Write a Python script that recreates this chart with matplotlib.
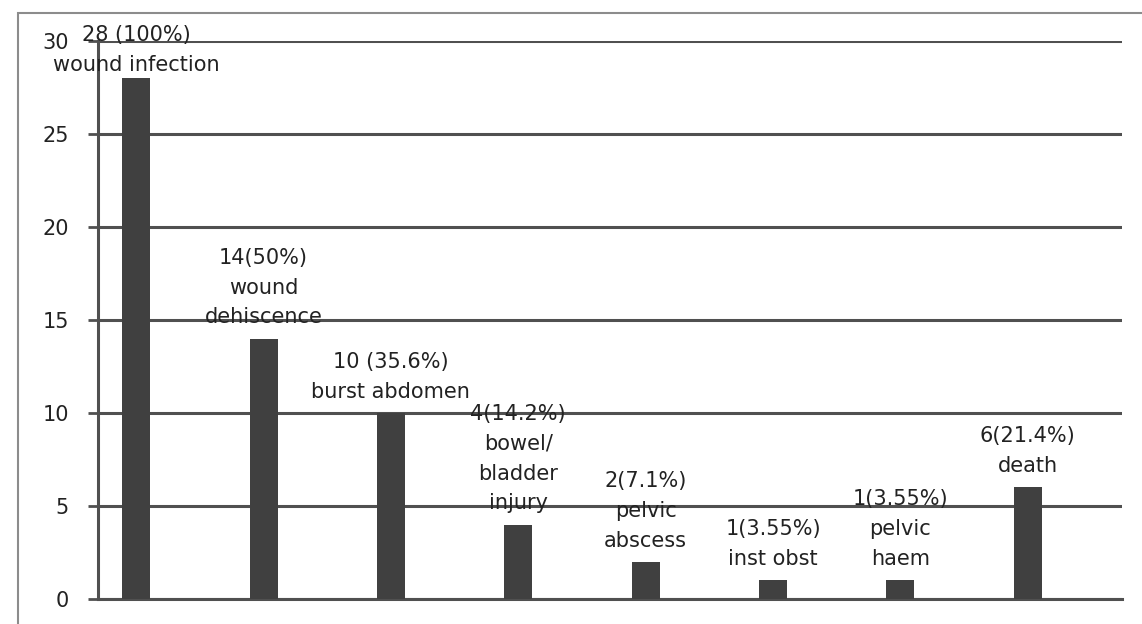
import matplotlib.pyplot as plt
from matplotlib.patches import Rectangle

# complications after surgery, count and share of cases
cases = [28, 14, 10, 4, 2, 1, 1, 6]
labels = ['28 (100%)\nwound infection',
          '14(50%)\nwound\ndehiscence',
          '10 (35.6%)\nburst abdomen',
          '4(14.2%)\nbowel/\nbladder\ninjury',
          '2(7.1%)\npelvic\nabscess',
          '1(3.55%)\ninst obst',
          '1(3.55%)\npelvic\nhaem',
          '6(21.4%)\ndeath']
yticks = [0, 5, 10, 15, 20, 25, 30]

fig = plt.figure(figsize=(11.42, 6.24), dpi=100)
ax = fig.add_axes([0.0858, 0.0401, 0.8967, 0.8942])

# grey frame round the chart
fig.patches.append(Rectangle((0.0158, -0.2), 1.2, 0.979 + 0.2, transform=fig.transFigure,
                             fill=False, edgecolor='#8c8c8c', linewidth=1.5))

x = range(len(cases))
ax.bar(x, cases, width=0.22, color='#404040', zorder=3)

for i, (v, t) in enumerate(zip(cases, labels)):
    # tall bars leave little room up top, so their label sits closer
    lift = 8 if v < 25 else 2
    ax.annotate(t, xy=(i, v), xytext=(0, lift), textcoords='offset points',
                ha='center', va='bottom', fontsize=15, color='#222222',
                linespacing=1.62, zorder=4)

ax.set_xlim(-0.30, 7.74)
ax.set_ylim(0, 30)
ax.set_yticks(yticks)
ax.set_xticks([])
ax.yaxis.grid(True, color='#505050', linewidth=2.2, zorder=1)
ax.set_axisbelow(True)
ax.tick_params(axis='y', length=7, width=2, color='#505050', labelsize=15,
               labelcolor='#222222', pad=14)
for s in ['top', 'right']:
    ax.spines[s].set_visible(False)
for s in ['left', 'bottom']:
    ax.spines[s].set_color('#505050')
    ax.spines[s].set_linewidth(2.2)

plt.savefig('out.png')
